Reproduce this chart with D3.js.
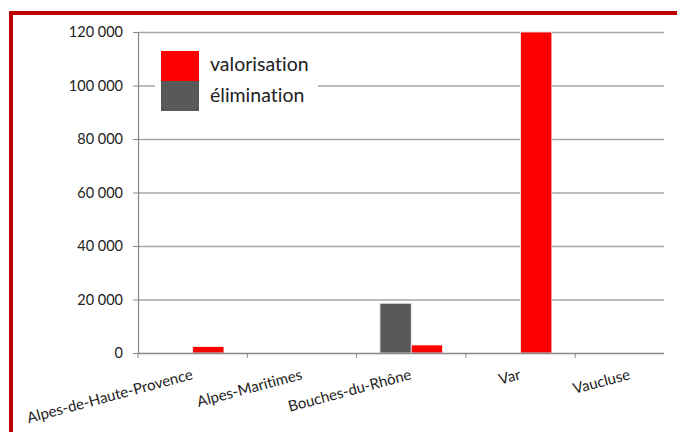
<!DOCTYPE html>
<html lang="fr">
  <head>
    <meta charset="utf-8" />
    <script src="https://cdn.jsdelivr.net/npm/d3@7/dist/d3.min.js"></script>
    <title>valorisation / élimination</title>
    <style>
      body { margin: 0; background: #fff; }
      text { font-family: Lato, "Open Sans", sans-serif; fill: #222; font-variant-ligatures: none; }
    </style>
  </head>
  <body>
    <div id="container"></div>
    <script>
      const categories = ["Alpes-de-Haute-Provence", "Alpes-Maritimes", "Bouches-du-Rhône", "Var", "Vaucluse"];
      const series = ["élimination", "valorisation"];
      const valorisation = [2400, 0, 3000, 120000, 0];
      const elimination = [0, 0, 18600, 0, 0];
      const yTicks = [0, 20000, 40000, 60000, 80000, 100000, 120000];
      const legendOrder = ["valorisation", "élimination"];

      const colors = { "valorisation": "#ff0000", "élimination": "#595959" };
      const values = { "valorisation": valorisation, "élimination": elimination };

      const W = 677, H = 432;
      const svg = d3.select("#container").append("svg").attr("width", W).attr("height", H);

      // red frame (runs off the right and bottom edges)
      svg.append("rect").attr("x", 11).attr("y", 13).attr("width", 700).attr("height", 460)
        .attr("fill", "none").attr("stroke", "#c00000").attr("stroke-width", 4);

      const pLeft = 138, pRight = 664, pTop = 32, pBottom = 353;
      const x = d3.scaleBand().domain(categories).range([pLeft, pLeft + 5 * 109.3]);
      const xs = d3.scaleBand().domain(series).range([0, x.bandwidth()]).paddingOuter(0.746);
      const y = d3.scaleLinear().domain([0, 120000]).range([pBottom, pTop]);

      const fmt = d3.formatLocale({ decimal: ",", thousands: " ", grouping: [3], currency: ["", " €"] }).format(",d");

      // gridlines
      svg.append("g").selectAll("line").data(yTicks.filter(d => d > 0)).join("line")
        .attr("x1", pLeft).attr("x2", pRight)
        .attr("y1", d => y(d) + 0.5).attr("y2", d => y(d) + 0.5)
        .attr("stroke", "#a6a6a6").attr("stroke-width", 1.5);

      // y axis
      const yAxis = svg.append("g").attr("transform", `translate(${pLeft},0)`)
        .call(d3.axisLeft(y).tickValues(yTicks).tickFormat(fmt).tickSize(5).tickPadding(10));
      yAxis.select(".domain").attr("stroke", "#888").attr("stroke-width", 1.2);
      yAxis.selectAll(".tick line").attr("stroke", "#888");
      yAxis.selectAll("text").attr("font-size", 14.5).style("fill", "#222")
        .style("font-family", "Lato, 'Open Sans', sans-serif");

      // bars
      const bars = [];
      categories.forEach((c, i) => series.forEach(s => { if (values[s][i] > 0) bars.push({ c, s, v: values[s][i] }); }));
      svg.append("g").selectAll("rect").data(bars).join("rect")
        .attr("x", d => x(d.c) + xs(d.s))
        .attr("width", xs.bandwidth())
        .attr("y", d => y(d.v))
        .attr("height", d => y(0) - y(d.v))
        .attr("fill", d => colors[d.s])
        .attr("stroke", "#f2f2f2").attr("stroke-width", 0.8);

      // x axis
      svg.append("line").attr("x1", pLeft).attr("x2", pRight).attr("y1", pBottom + 0.5).attr("y2", pBottom + 0.5)
        .attr("stroke", "#888").attr("stroke-width", 1.5);
      svg.append("g").selectAll("line").data(categories).join("line")
        .attr("x1", d => x(d)).attr("x2", d => x(d))
        .attr("y1", pBottom).attr("y2", pBottom + 5)
        .attr("stroke", "#888");

      svg.append("g").selectAll("text").data(categories).join("text")
        .attr("transform", d => `translate(${x(d) + x.bandwidth() / 2 + 1},${pBottom + 26}) rotate(-15)`)
        .attr("text-anchor", "end")
        .attr("font-size", 15)
        .text(d => d);

      // legend
      const lg = svg.append("g");
      lg.append("rect").attr("x", 155).attr("y", 42).attr("width", 163).attr("height", 76).attr("fill", "#fff");
      legendOrder.forEach((s, i) => {
        lg.append("rect").attr("x", 161).attr("y", 51 + i * 30).attr("width", 38).attr("height", 30)
          .attr("fill", colors[s]);
        lg.append("text").attr("x", 210).attr("y", 71 + i * 31).attr("font-size", 19.5).text(s);
      });
    </script>
  </body>
</html>
